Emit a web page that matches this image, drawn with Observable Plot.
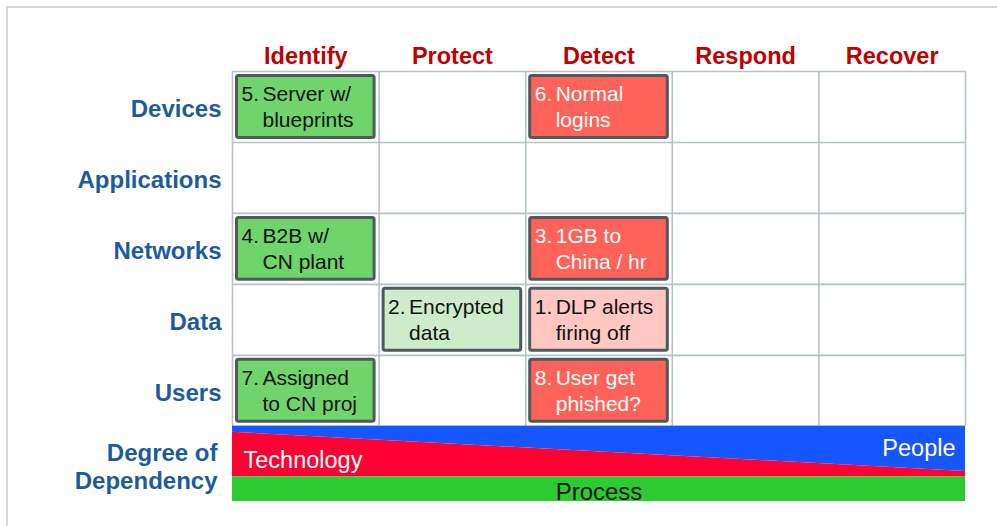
<!DOCTYPE html>
<html>
<head>
<meta charset="utf-8">
<script src="https://cdn.jsdelivr.net/npm/d3@7"></script>
<script src="https://cdn.jsdelivr.net/npm/@observablehq/plot@0.6"></script>
<style>
  html, body { margin: 0; padding: 0; background: #fff; }
  #wrap { position: relative; width: 997px; height: 526px; }
  #frame { position: absolute; left: 6px; top: 6px; right: 0; bottom: 0;
           border-top: 2px solid #d3d8da; border-left: 2px solid #d3d8da; pointer-events: none; }
</style>
</head>
<body>
<div id="wrap"><div id="frame"></div></div>
<script>
// ---- data ----
const stages = ["Identify", "Protect", "Detect", "Respond", "Recover"];
const assets = ["Devices", "Applications", "Networks", "Data", "Users"];

const cellStage  = ["Identify", "Identify", "Identify", "Protect", "Detect", "Detect", "Detect", "Detect"];
const cellAsset  = ["Devices", "Networks", "Users", "Data", "Devices", "Networks", "Data", "Users"];
const cellNumber = ["5.", "4.", "7.", "2.", "6.", "3.", "1.", "8."];
const cellLine1  = ["Server w/", "B2B w/", "Assigned", "Encrypted", "Normal", "1GB to", "DLP alerts", "User get"];
const cellLine2  = ["blueprints", "CN plant", "to CN proj", "data", "logins", "China / hr", "firing off", "phished?"];
const cellKind   = ["found", "found", "found", "weak", "alert", "alert", "weakAlert", "alert"];

// degree of dependency across the stages (share of band height), left edge and right edge
const dependencyAt   = [0, 5];
const peopleShare    = [0.08, 0.60];
const technologyShare= [0.59, 0.07];
const processShare   = [0.33, 0.33];
const dependencyLabel = ["Degree of", "Dependency"];

// ---- styling ----
const kindFill = {found: "#6fd46c", weak: "#cdecca", alert: "#ff6258", weakAlert: "#ffc7c1"};
const kindText = {found: "#111", weak: "#111", alert: "#fff", weakAlert: "#111"};
const font = "'Liberation Sans', Arial, Helvetica, sans-serif";
const bandRows = 1.06;

const nR = assets.length, nC = stages.length;
const cells = cellStage.map((s, i) => ({
  c: stages.indexOf(s), r: assets.indexOf(cellAsset[i]),
  num: cellNumber[i] + "\n ", text: cellLine1[i] + "\n" + cellLine2[i], kind: cellKind[i]
}));
const band = dependencyAt.map((x, i) => ({
  x,
  p: nR + bandRows * peopleShare[i],
  t: nR + bandRows * (peopleShare[i] + technologyShare[i]),
  e: nR + bandRows * (peopleShare[i] + technologyShare[i] + processShare[i])
}));

const chart = Plot.plot({
  width: 997, height: 526,
  marginLeft: 232, marginRight: 32, marginTop: 71, marginBottom: 25,
  x: {domain: [0, nC], axis: null},
  y: {domain: [0, nR + bandRows], reverse: true, axis: null},
  style: {fontFamily: font, background: "transparent"},
  marks: [
    Plot.ruleY(d3.range(nR + 1), {x1: 0, x2: nC, stroke: "#b4c3c8", strokeWidth: 1.6}),
    Plot.ruleX(d3.range(nC + 1), {y1: 0, y2: nR, stroke: "#b4c3c8", strokeWidth: 1.6}),
    // dependency band
    Plot.areaY(band, {x: "x", y1: nR, y2: "p", fill: "#1656ff"}),
    Plot.areaY(band, {x: "x", y1: "p", y2: "t", fill: "#ff0033"}),
    Plot.areaY(band, {x: "x", y1: "t", y2: "e", fill: "#2dca31"}),
    // cells
    Plot.rect(cells, {x1: "c", x2: d => d.c + 1, y1: "r", y2: d => d.r + 1,
      fill: d => kindFill[d.kind], stroke: "#4f5a5e", strokeWidth: 3, inset: 4.5, rx: 2}),
    Plot.text(cells, {x: "c", y: d => d.r + 0.5, text: "num", dx: 9, dy: -1.5,
      lineHeight: 1.27, textAnchor: "start", fontSize: 21, fill: d => kindText[d.kind]}),
    Plot.text(cells, {x: "c", y: d => d.r + 0.5, text: "text", dx: 30, dy: -1.5,
      lineHeight: 1.27, textAnchor: "start", fontSize: 21, fill: d => kindText[d.kind]}),
    // headers
    Plot.text(stages, {x: (d, i) => i + 0.5, y: 0, text: d => d, dy: -15.5,
      fontSize: 23.5, fontWeight: "bold", fill: "#c00000"}),
    Plot.text(assets, {x: 0, y: (d, i) => i + 0.5, text: d => d, dx: -11, dy: 2.5,
      textAnchor: "end", fontSize: 24, fontWeight: "bold", fill: "#1d5b9c"}),
    Plot.text([dependencyLabel.join("\n")], {x: 0, y: nR + bandRows / 2, text: d => d, dx: -15, dy: 2,
      lineHeight: 1.15, textAnchor: "end", fontSize: 24, fontWeight: "bold", fill: "#1d5b9c"}),
    // band labels
    Plot.text(["Technology"], {x: 0, y: nR + bandRows / 2, text: d => d, dx: 11, dy: -3.5,
      textAnchor: "start", fontSize: 23.5, fill: "#fff"}),
    Plot.text(["People"], {x: nC, y: band[1].p / 2 + nR / 2, text: d => d, dx: -10, dy: -0.5,
      textAnchor: "end", fontSize: 23.5, fill: "#fff"}),
    Plot.text(["Process"], {x: nC / 2, y: (band[0].t + band[0].e) / 2, text: d => d, dy: 3,
      fontSize: 24, fill: "#111"})
  ]
});
document.getElementById("wrap").prepend(chart);
</script>
</body>
</html>
